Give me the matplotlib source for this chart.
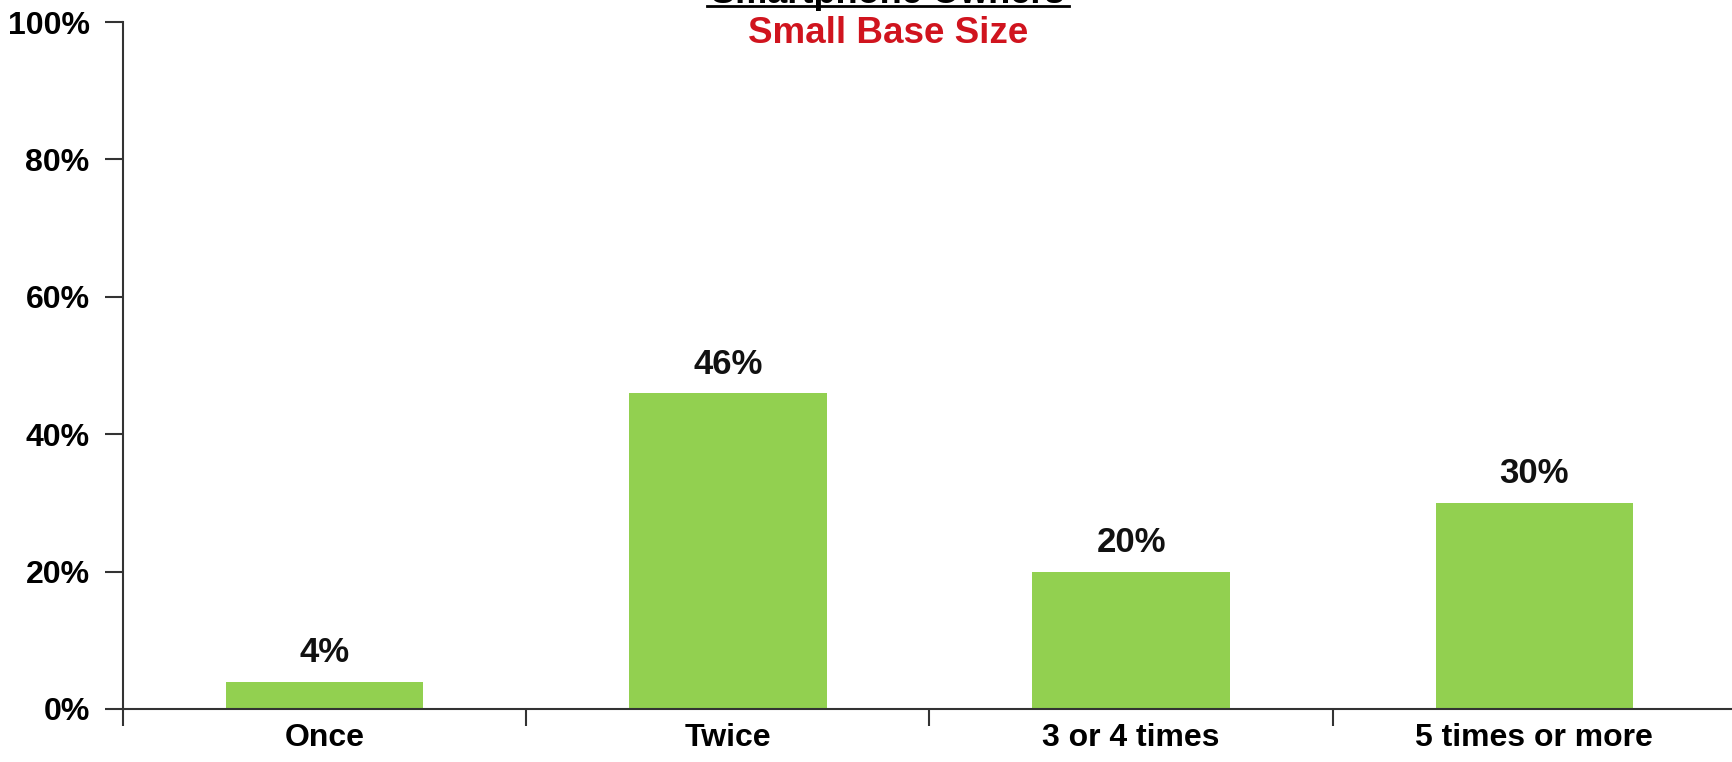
import matplotlib
matplotlib.use("Agg")
import matplotlib.pyplot as plt
from matplotlib.lines import Line2D
import numpy as np

categories = ["Once", "Twice", "3 or 4 times", "5 times or more"]
values = [4, 46, 20, 30]
y_ticks = [0, 20, 40, 60, 80, 100]
title = "Smartphone Owners"
subtitle = "Small Base Size"

plt.rcParams["font.family"] = ["Liberation Sans", "DejaVu Sans"]

W, H = 1733, 762
fig = plt.figure(figsize=(W / 100, H / 100), dpi=100)
ax = fig.add_axes([123 / W, 1 - 709 / H, (1736 - 123) / W, (709 - 22) / H])

x = np.arange(len(categories))
ax.bar(x, values, width=0.49, color="#92D050", zorder=2)

for xi, v in zip(x, values):
    ax.annotate(f"{v}%", (xi, v), xytext=(0, 14), textcoords="offset points",
                ha="center", va="baseline", fontsize=25, fontweight="bold",
                color="#111111")

ax.set_xlim(-0.5, len(categories) - 0.5)
ax.set_ylim(0, 100)
ax.set_yticks(y_ticks)
ax.set_yticklabels([f"{t}%" for t in y_ticks], fontsize=23, fontweight="bold")
ax.set_xticks(x)
ax.set_xticklabels(categories, fontsize=23, fontweight="bold")
ax.set_xticks(np.arange(-0.5, len(categories), 1.0), minor=True)

ax.tick_params(axis="x", which="major", length=0, pad=10)
ax.tick_params(axis="x", which="minor", length=12, width=1.5, color="#333333", direction="out")
ax.tick_params(axis="y", length=13, width=1.5, color="#333333", pad=11)

for s in ["top", "right"]:
    ax.spines[s].set_visible(False)
for s in ["left", "bottom"]:
    ax.spines[s].set_linewidth(1.5)
    ax.spines[s].set_color("#333333")

# Heading: underlined title running off the top edge, red note below
cx = 888 / W
fig.text(cx, 1 - 3 / H, title, ha="center", va="baseline",
         fontsize=26, fontweight="bold", color="black")
fig.add_artist(Line2D([707 / W, 1069 / W], [1 - 6 / H, 1 - 6 / H],
                      transform=fig.transFigure, color="black", linewidth=2))
fig.text(cx, 1 - 43 / H, subtitle, ha="center", va="baseline",
         fontsize=26.5, fontweight="bold", color="#D0141E")

fig.savefig("out.png", dpi=100)
